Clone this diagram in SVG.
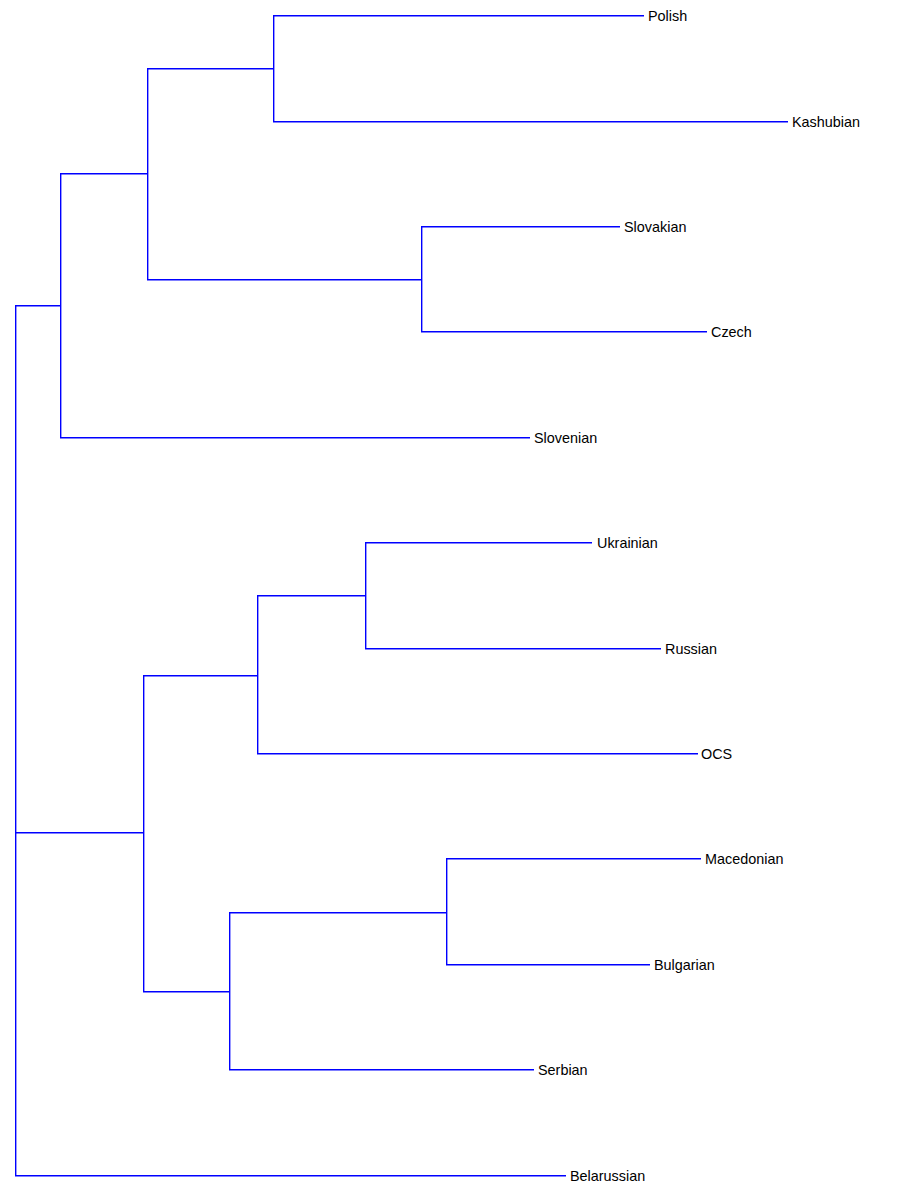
<svg xmlns="http://www.w3.org/2000/svg" width="898" height="1200" viewBox="0 0 898 1200">
<style>
line{stroke:#0000ff;stroke-width:1.4;fill:none}
.t{font-family:"Liberation Sans",Arial,sans-serif;font-size:14.4px;fill:#000;dominant-baseline:central}
</style>
<rect width="898" height="1200" fill="#fff"/>
<g id="connectors" stroke="#0000ff">
<line x1="15.7" y1="305" x2="15.7" y2="1176"/>
<line x1="15" y1="305.7" x2="60.7" y2="305.7"/>
<line x1="15" y1="832.7" x2="143.7" y2="832.7"/>
<line x1="15" y1="1175.7" x2="566" y2="1175.7"/>
<line x1="60.7" y1="173" x2="60.7" y2="438"/>
<line x1="60" y1="173.7" x2="147.7" y2="173.7"/>
<line x1="60" y1="437.7" x2="530" y2="437.7"/>
<line x1="147.7" y1="68" x2="147.7" y2="280"/>
<line x1="147" y1="68.7" x2="273.7" y2="68.7"/>
<line x1="147" y1="279.7" x2="421.7" y2="279.7"/>
<line x1="273.7" y1="15" x2="273.7" y2="122"/>
<line x1="273" y1="15.7" x2="644" y2="15.7"/>
<line x1="273" y1="121.7" x2="788" y2="121.7"/>
<line x1="421.7" y1="226" x2="421.7" y2="332"/>
<line x1="421" y1="226.7" x2="620" y2="226.7"/>
<line x1="421" y1="331.7" x2="707" y2="331.7"/>
<line x1="143.7" y1="675" x2="143.7" y2="992"/>
<line x1="143" y1="675.7" x2="257.7" y2="675.7"/>
<line x1="143" y1="991.7" x2="229.7" y2="991.7"/>
<line x1="257.7" y1="595" x2="257.7" y2="754"/>
<line x1="257" y1="595.7" x2="365.7" y2="595.7"/>
<line x1="257" y1="753.7" x2="698" y2="753.7"/>
<line x1="365.7" y1="542" x2="365.7" y2="649"/>
<line x1="365" y1="542.7" x2="592" y2="542.7"/>
<line x1="365" y1="648.7" x2="661" y2="648.7"/>
<line x1="229.7" y1="912" x2="229.7" y2="1070"/>
<line x1="229" y1="912.7" x2="446.7" y2="912.7"/>
<line x1="229" y1="1069.7" x2="534" y2="1069.7"/>
<line x1="446.7" y1="858" x2="446.7" y2="965"/>
<line x1="446" y1="858.7" x2="701" y2="858.7"/>
<line x1="446" y1="964.7" x2="650" y2="964.7"/>
</g>
<g id="n-polish"><text class="t" x="648" y="15.5">Polish</text></g>
<g id="n-kashubian"><text class="t" x="792" y="121.5">Kashubian</text></g>
<g id="n-slovakian"><text class="t" x="624" y="226.5">Slovakian</text></g>
<g id="n-czech"><text class="t" x="711" y="331.5">Czech</text></g>
<g id="n-slovenian"><text class="t" x="534" y="437.5">Slovenian</text></g>
<g id="n-ukrainian"><text class="t" x="597" y="542.5">Ukrainian</text></g>
<g id="n-russian"><text class="t" x="665" y="648.5">Russian</text></g>
<g id="n-ocs"><text class="t" x="701" y="753.5">OCS</text></g>
<g id="n-macedonian"><text class="t" x="705" y="858.5">Macedonian</text></g>
<g id="n-bulgarian"><text class="t" x="654" y="964.5">Bulgarian</text></g>
<g id="n-serbian"><text class="t" x="538" y="1069.5">Serbian</text></g>
<g id="n-belarussian"><text class="t" x="570" y="1175.5">Belarussian</text></g>
</svg>
